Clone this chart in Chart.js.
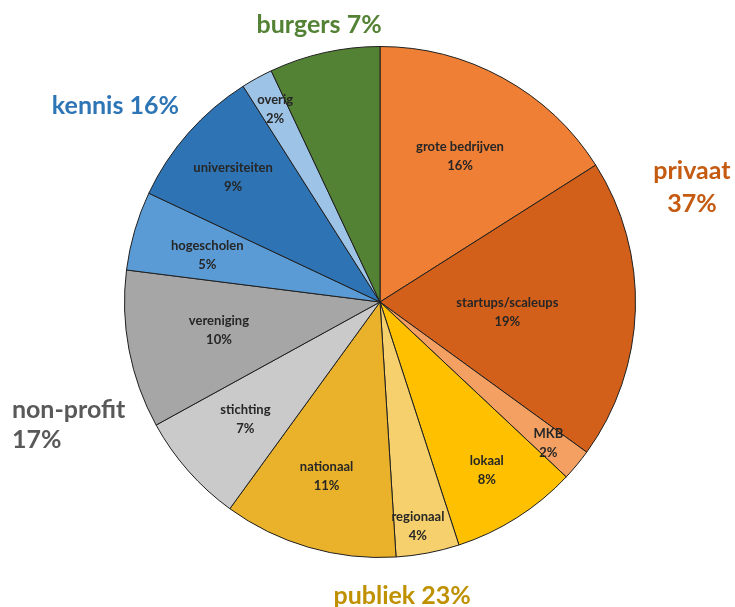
<!DOCTYPE html>
<html>
<head>
<meta charset="utf-8">
<script src="https://cdn.jsdelivr.net/npm/chart.js@4.4.1/dist/chart.umd.min.js"></script>
<style>
  html, body { margin: 0; padding: 0; background: #ffffff; }
  #wrap { width: 735px; height: 607px; position: relative; }
</style>
</head>
<body>
<div id="wrap"><canvas id="c" width="735" height="607"></canvas></div>
<script>
// ---- data ----
const categories = ["grote bedrijven", "startups/scaleups", "MKB", "lokaal", "regionaal", "nationaal",
                    "stichting", "vereniging", "hogescholen", "universiteiten", "overig", "burgers"];
const values = [16, 19, 2, 8, 4, 11, 7, 10, 5, 9, 2, 7];
const sliceColors = ["#EE7F34", "#D25F1A", "#F4A062", "#FFC000", "#F6D06C", "#E9B22A",
                     "#CACACA", "#A6A6A6", "#5B9BD5", "#2E74B5", "#9DC3E6", "#548235"];
const showSliceLabel = [true, true, true, true, true, true, true, true, true, true, true, false];

// groups: name, share, first & last slice index, colour
const groupNames = ["privaat", "publiek", "non-profit", "kennis", "burgers"];
const groupValues = [37, 23, 17, 16, 7];
const groupFirst = [0, 3, 6, 8, 11];
const groupLast = [2, 5, 7, 10, 11];
const groupColors = ["#C55A11", "#BF9000", "#595959", "#2E75B6", "#548235"];

// label placement styles (angle shift in degrees, radius as fraction of pie radius)
const labelShift = [0, 2.7, 0.4, 0, 1.2, 0.8, 0.2, 0.8, -1.2, -1, 0.3, 0];
const labelRadius = [0.65, 0.5, 0.86, 0.78, 0.89, 0.715, 0.70, 0.64, 0.70, 0.755, 0.86, 0.6];
const groupShift = [3.3, 1.1, 1.9, 0.6, 0.2];
const groupRadius = [1.30, 1.155, 1.31, 1.29, 1.11];
const groupTwoLines = [true, false, true, false, false];
const groupAlignLeft = [false, false, true, false, false];

const labelPlugin = {
  id: 'labels',
  afterDatasetsDraw(chart) {
    const ctx = chart.ctx;
    const meta = chart.getDatasetMeta(0);
    const arcs = meta.data;
    if (!arcs.length) return;
    const cx = arcs[0].x, cy = arcs[0].y, R = arcs[0].outerRadius;
    ctx.save();
    ctx.textBaseline = 'middle';
    // slice labels
    ctx.font = 'bold 13px Lato, "Open Sans", sans-serif';
    ctx.fillStyle = '#262626';
    ctx.textAlign = 'center';
    arcs.forEach((a, i) => {
      if (!showSliceLabel[i]) return;
      const mid = (a.startAngle + a.endAngle) / 2 + labelShift[i] * Math.PI / 180;
      const r = labelRadius[i] * R;
      const x = cx + r * Math.cos(mid), y = cy + r * Math.sin(mid);
      ctx.fillText(categories[i], x, y - 9.5);
      ctx.fillText(values[i] + '%', x, y + 9.5);
    });
    // group labels
    ctx.font = 'bold 25px Lato, "Open Sans", sans-serif';
    groupNames.forEach((g, i) => {
      const s = arcs[groupFirst[i]].startAngle, e = arcs[groupLast[i]].endAngle;
      const mid = (s + e) / 2 + groupShift[i] * Math.PI / 180;
      const r = groupRadius[i] * R;
      const x = cx + r * Math.cos(mid), y = cy + r * Math.sin(mid);
      ctx.fillStyle = groupColors[i];
      if (groupTwoLines[i]) {
        const half = groupAlignLeft[i] ? 15 : 16.5;
        if (groupAlignLeft[i]) {
          const w = ctx.measureText(g).width;
          ctx.textAlign = 'left';
          ctx.fillText(g, x - w / 2, y - half);
          ctx.fillText(groupValues[i] + '%', x - w / 2, y + half);
        } else {
          ctx.textAlign = 'center';
          ctx.fillText(g, x, y - half);
          ctx.fillText(groupValues[i] + '%', x, y + half);
        }
      } else {
        ctx.textAlign = 'center';
        ctx.fillText(g + ' ' + groupValues[i] + '%', x, y);
      }
    });
    ctx.restore();
  }
};

new Chart(document.getElementById('c'), {
  type: 'pie',
  data: {
    labels: categories,
    datasets: [{
      data: values,
      backgroundColor: sliceColors,
      borderColor: '#1f1f1f',
      borderWidth: 1
    }]
  },
  options: {
    responsive: false,
    animation: false,
    layout: { padding: { top: 46, bottom: 49, left: 124, right: 99 } },
    plugins: {
      legend: { display: false },
      tooltip: { enabled: false }
    }
  },
  plugins: [labelPlugin]
});
</script>
</body>
</html>
